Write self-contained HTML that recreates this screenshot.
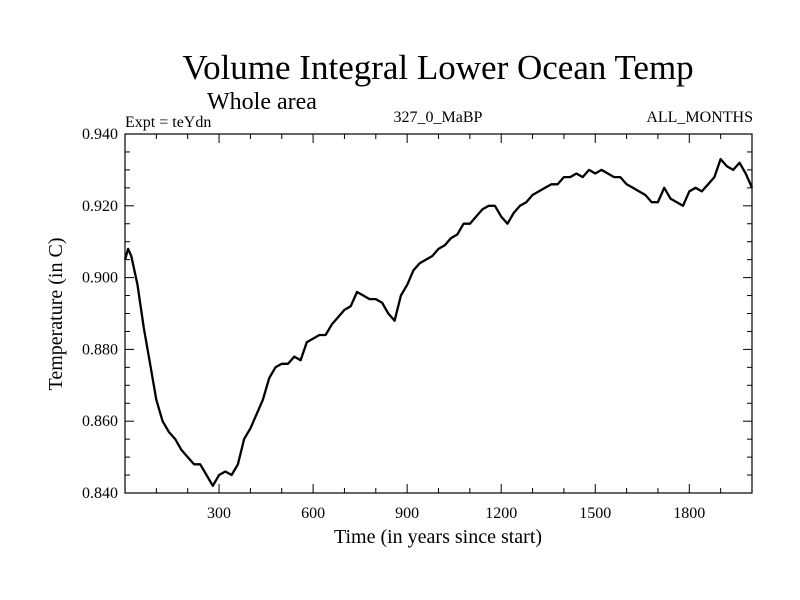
<!DOCTYPE html>
<html><head><meta charset="utf-8"><style>
html,body{margin:0;padding:0;background:#fff;}
svg{display:block;font-family:"Liberation Serif",serif;}
</style></head><body>
<svg id="chart" width="800" height="600">
<text x="438" y="79" font-size="35" text-anchor="middle">Volume Integral Lower Ocean Temp</text>
<text x="207" y="109" font-size="24">Whole area</text>
<text x="125" y="127" font-size="16">Expt = teYdn</text>
<text x="438" y="122" font-size="16" text-anchor="middle">327_0_MaBP</text>
<text x="753" y="122" font-size="16" text-anchor="end">ALL_MONTHS</text>
<text x="438" y="543" font-size="20" text-anchor="middle">Time (in years since start)</text>
<text transform="translate(62,314) rotate(-90)" font-size="20" text-anchor="middle">Temperature (in C)</text>
<g id="axes"></g>
<path id="series" fill="none" stroke="#000" stroke-width="2.3" stroke-linejoin="round"></path>
<rect x="125" y="134" width="627" height="359" fill="none" stroke="#000" stroke-width="1.2"></rect>
</svg>
<script>
const years=[0,10,20,40,60,80,100,120,140,160,180,200,220,240,260,280,300,320,340,360,380,400,420,440,460,480,500,520,540,560,580,600,620,640,660,680,700,720,740,760,780,800,820,840,860,880,900,920,940,960,980,1000,1020,1040,1060,1080,1100,1120,1140,1160,1180,1200,1220,1240,1260,1280,1300,1320,1340,1360,1380,1400,1420,1440,1460,1480,1500,1520,1540,1560,1580,1600,1620,1640,1660,1680,1700,1720,1740,1760,1780,1800,1820,1840,1860,1880,1900,1920,1940,1960,1980,2000];
const temps=[0.905,0.908,0.906,0.898,0.886,0.876,0.866,0.860,0.857,0.855,0.852,0.850,0.848,0.848,0.845,0.842,0.845,0.846,0.845,0.848,0.855,0.858,0.862,0.866,0.872,0.875,0.876,0.876,0.878,0.877,0.882,0.883,0.884,0.884,0.887,0.889,0.891,0.892,0.896,0.895,0.894,0.894,0.893,0.890,0.888,0.895,0.898,0.902,0.904,0.905,0.906,0.908,0.909,0.911,0.912,0.915,0.915,0.917,0.919,0.920,0.920,0.917,0.915,0.918,0.920,0.921,0.923,0.924,0.925,0.926,0.926,0.928,0.928,0.929,0.928,0.930,0.929,0.930,0.929,0.928,0.928,0.926,0.925,0.924,0.923,0.921,0.921,0.925,0.922,0.921,0.920,0.924,0.925,0.924,0.926,0.928,0.933,0.931,0.930,0.932,0.929,0.925];
const xTickLabels=[300,600,900,1200,1500,1800];
const yTickLabels=[0.840,0.860,0.880,0.900,0.920,0.940];
const L=125,R=752,T=134,B=493,X0=0,X1=2000,Y0=0.84,Y1=0.94;
const sx=v=>L+(v-X0)/(X1-X0)*(R-L);
const sy=v=>B-(v-Y0)/(Y1-Y0)*(B-T);
const NS="http://www.w3.org/2000/svg";
const g=document.getElementById('axes');
function mk(tag,attrs){const e=document.createElementNS(NS,tag);for(const k in attrs)e.setAttribute(k,attrs[k]);g.appendChild(e);return e;}
for(let yr=100;yr<X1;yr+=100){
  const major=yr%300===0, len=major?9:5;
  const t1=mk('line',{x1:sx(yr),x2:sx(yr),y1:B,y2:B-len,stroke:'#000'});
  
  
  const t2=mk('line',{x1:sx(yr),x2:sx(yr),y1:T,y2:T+len,stroke:'#000'});
  
  
}
xTickLabels.forEach(v=>{const t=mk('text',{x:sx(v),y:B+25,'font-size':16,'text-anchor':'middle'});t.textContent=v;
  
  });
for(let i=0;i<=20;i++){
  const v=Y0+i*0.005, major=i%4===0, len=major?9:5;
  const t1=mk('line',{x1:L,x2:L+len,y1:sy(v),y2:sy(v),stroke:'#000'});
  
  
  const t2=mk('line',{x1:R,x2:R-len,y1:sy(v),y2:sy(v),stroke:'#000'});
  
  
}
yTickLabels.forEach(v=>{const t=mk('text',{x:L-7,y:sy(v)+5,'font-size':16,'text-anchor':'end'});t.textContent=v.toFixed(3);
  
  });
document.getElementById('series').setAttribute('d',years.map((y,i)=>(i?'L':'M')+sx(y).toFixed(1)+','+sy(temps[i]).toFixed(1)).join(''));
</script>
</body></html>
